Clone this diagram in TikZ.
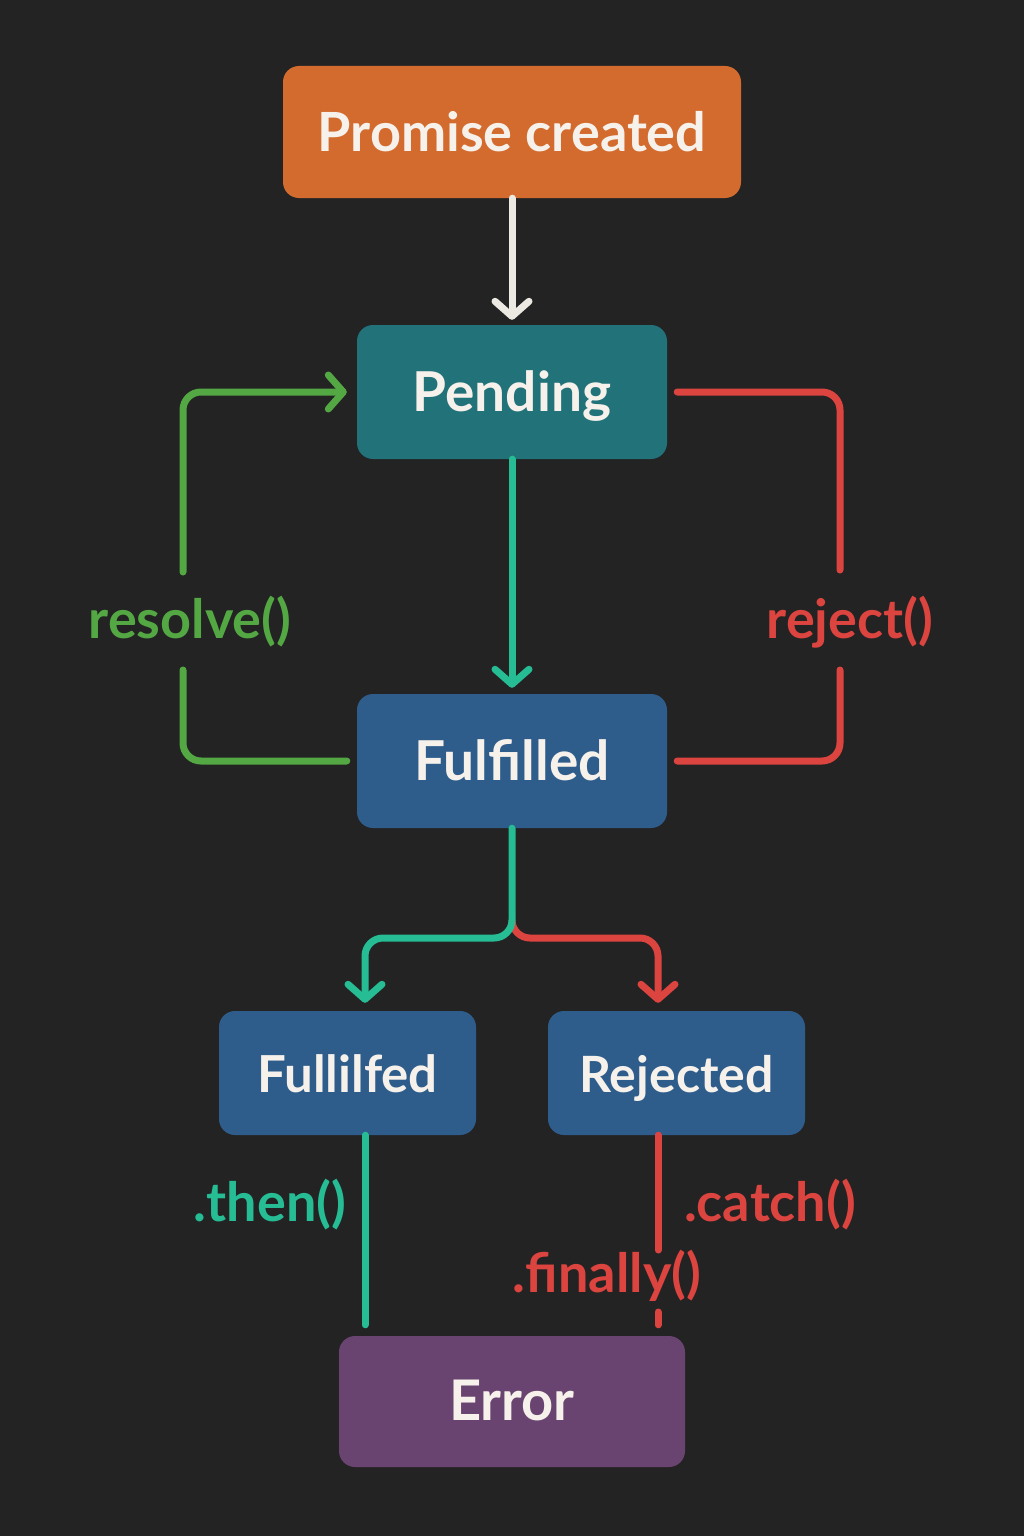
\documentclass[tikz,border=0pt]{standalone}
\usepackage{fontspec}
\setmainfont{Lato}
\usetikzlibrary{arrows.meta}
\tikzset{>={Straight Barb[length=15pt,width=34pt,round]}}
\definecolor{bgColour}{RGB}{35,35,35}
\definecolor{createdColour}{RGB}{211,107,46}
\definecolor{pendingColour}{RGB}{34,114,122}
\definecolor{stateColour}{RGB}{46,93,140}
\definecolor{errorColour}{RGB}{106,68,112}
\definecolor{textColour}{RGB}{246,241,234}
\definecolor{arrowColour}{RGB}{236,232,226}
\definecolor{resolveColour}{RGB}{84,168,68}
\definecolor{thenColour}{RGB}{38,188,148}
\definecolor{rejectColour}{RGB}{220,68,64}
\tikzset{
  stateBox/.style={rounded corners=16pt, text=textColour, inner sep=0pt, text height=38pt, text depth=0pt},
  flowLine/.style={line width=7pt, line cap=round, rounded corners=18pt},
  flowLabel/.style={font=\fontsize{54}{60}\selectfont\bfseries, inner sep=0pt}
}
\begin{document}
\begin{tikzpicture}[x=1pt, y=-1pt]
		% the background
		\fill[bgColour] (0, 0) rectangle (1024, 1536);
		\useasboundingbox (0, 0) rectangle (1024, 1536);

		% the states
		\node[stateBox, fill=createdColour, minimum width=458pt, minimum height=132pt, font=\fontsize{54}{60}\selectfont\bfseries] (created) at (512, 132) {Promise created};
		\node[stateBox, fill=pendingColour, minimum width=310pt, minimum height=134pt, font=\fontsize{55}{60}\selectfont\bfseries] (pending) at (512, 392) {Pending};
		\node[stateBox, fill=stateColour, minimum width=310pt, minimum height=134pt, font=\fontsize{55}{60}\selectfont\bfseries] (fulfilled) at (512, 761) {Fulfilled};
		\node[stateBox, fill=stateColour, minimum width=257pt, minimum height=124pt, font=\fontsize{51}{56}\selectfont\bfseries] (fullilfed) at (347.5, 1073) {Fullilfed};
		\node[stateBox, fill=stateColour, minimum width=257pt, minimum height=124pt, font=\fontsize{50}{56}\selectfont\bfseries] (rejected) at (676.5, 1073) {Rejected};
		\node[stateBox, fill=errorColour, minimum width=346pt, minimum height=131pt, font=\fontsize{56}{60}\selectfont\bfseries] (error) at (512, 1401.5) {Error};

		% the labels
		\node[flowLabel, text=resolveColour] (resolve) at (190, 622) {resolve()};
		\node[flowLabel, text=rejectColour] (reject) at (850, 622) {reject()};
		\node[flowLabel, text=thenColour] (then) at (270, 1205) {.then()};
		\node[flowLabel, text=rejectColour] (catch) at (770, 1205) {.catch()};
		\node[flowLabel, text=rejectColour] (finally) at (607, 1276) {.finally()};

		% the turning points
		\coordinate (resolveLow) at (183, 670);
		\coordinate (resolveHigh) at (183, 572);
		\coordinate (rejectHigh) at (840, 570);
		\coordinate (rejectLow) at (840, 670);
		\coordinate (split) at (512, 938);
		\coordinate (catchEnd) at (658, 1250);
		\coordinate (finallyEnd) at (658, 1312);

		% created to pending
		\draw[flowLine, arrowColour, ->, shorten >=5pt] (created.south) -- (pending.north);

		% resolve loop
		\draw[flowLine, resolveColour] ([xshift=-10pt]fulfilled.west) -| (resolveLow);
		\draw[flowLine, resolveColour, ->, shorten >=10pt] (resolveHigh) |- (pending.west);

		% reject loop
		\draw[flowLine, rejectColour] ([xshift=10pt]pending.east) -| (rejectHigh);
		\draw[flowLine, rejectColour] (rejectLow) |- ([xshift=10pt]fulfilled.east);

		% pending to fulfilled
		\draw[flowLine, thenColour, ->, shorten >=6pt] (pending.south) -- (fulfilled.north);

		% the split
		\draw[flowLine, rejectColour, ->, shorten >=8pt] ([yshift=12pt]split) |- ([xshift=-18.5pt]rejected.north |- split) -- ([xshift=-18.5pt]rejected.north);
		\draw[flowLine, thenColour, ->, shorten >=8pt] (fulfilled.south) |- ([xshift=17.5pt]fullilfed.north |- split) -- ([xshift=17.5pt]fullilfed.north);

		% down to the error
		\draw[flowLine, thenColour, shorten >=11pt] ([xshift=17.5pt]fullilfed.south) -- ([xshift=17.5pt]fullilfed.south |- error.north);
		\draw[flowLine, rejectColour] ([xshift=-18.5pt]rejected.south) -- (catchEnd);
		\draw[flowLine, rejectColour, shorten >=11pt] (finallyEnd) -- (finallyEnd |- error.north);
	\end{tikzpicture}
\end{document}
